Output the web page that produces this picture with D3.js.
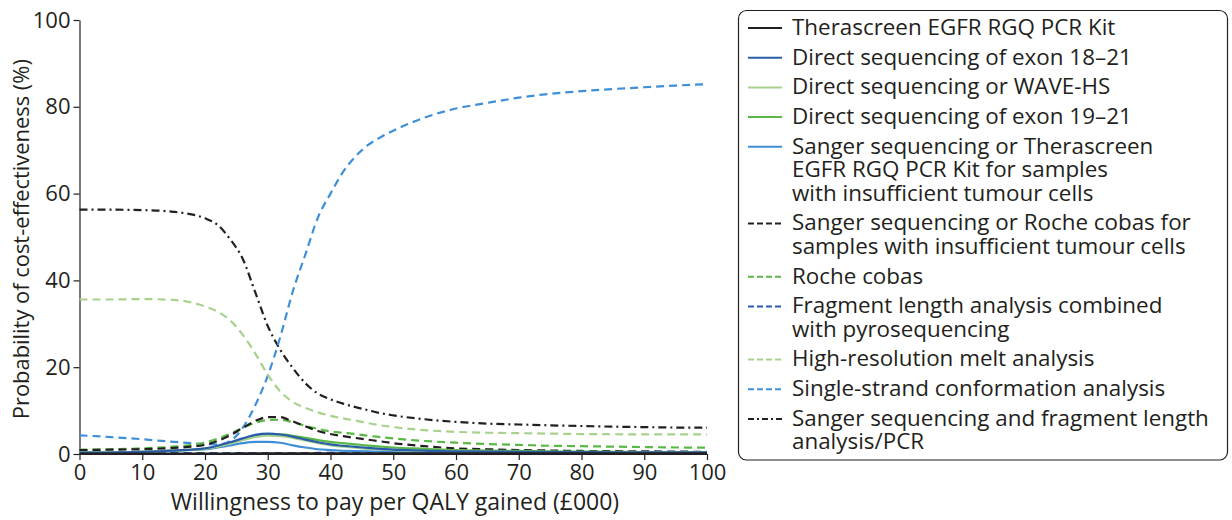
<!DOCTYPE html>
<html>
<head>
<meta charset="utf-8">
<script src="https://cdn.jsdelivr.net/npm/d3@7"></script>
<style>
  html, body { margin: 0; padding: 0; background: #fff; }
  svg { display: block; font-family: "Open Sans", "Noto Sans", sans-serif; }
</style>
</head>
<body>
<svg id="chart" width="1232" height="520"></svg>
<script>
// Willingness-to-pay thresholds (£000) at which each curve is sampled
const wtp = [0, 5, 10, 15, 20, 22, 24, 26, 28, 30, 32, 34, 36, 38, 40, 42, 44, 46, 48, 50, 55, 60, 65, 70, 75, 80, 85, 90, 95, 100];

// Probability of cost-effectiveness (%) for each testing strategy
const therascreen       = [0.1, 0.1, 0.1, 0.1, 0.1, 0.1, 0.1, 0.15, 0.15, 0.15, 0.15, 0.15, 0.15, 0.15, 0.15, 0.15, 0.15, 0.15, 0.15, 0.15, 0.15, 0.15, 0.15, 0.15, 0.15, 0.15, 0.15, 0.15, 0.15, 0.15];
const direct1821        = [0.3, 0.35, 0.5, 0.8, 1.3, 1.9, 2.7, 3.6, 4.4, 4.7, 4.5, 4.0, 3.3, 2.7, 2.2, 1.9, 1.65, 1.4, 1.2, 1.0, 0.8, 0.6, 0.55, 0.5, 0.45, 0.45, 0.4, 0.4, 0.4, 0.4];
const directWave        = [0.3, 0.35, 0.5, 0.8, 1.2, 1.7, 2.4, 3.2, 3.9, 4.2, 4.1, 3.7, 3.1, 2.5, 2.0, 1.7, 1.45, 1.2, 1.05, 0.9, 0.7, 0.6, 0.5, 0.45, 0.4, 0.4, 0.35, 0.35, 0.35, 0.35];
const direct1921        = [0.3, 0.35, 0.5, 0.8, 1.2, 1.7, 2.5, 3.4, 4.1, 4.5, 4.5, 4.2, 3.7, 3.2, 2.8, 2.5, 2.2, 1.95, 1.7, 1.5, 1.2, 0.9, 0.8, 0.7, 0.6, 0.55, 0.5, 0.45, 0.4, 0.4];
const sangerTherascreen = [0.3, 0.35, 0.5, 0.8, 1.1, 1.5, 2.0, 2.5, 2.8, 2.8, 2.6, 2.0, 1.5, 1.1, 0.9, 0.75, 0.65, 0.6, 0.55, 0.5, 0.45, 0.4, 0.35, 0.35, 0.3, 0.3, 0.3, 0.3, 0.3, 0.3];
const sangerRoche       = [0.9, 1.0, 1.1, 1.4, 2.1, 3.0, 4.3, 6.0, 7.6, 8.5, 8.5, 7.5, 6.4, 5.3, 4.6, 4.1, 3.7, 3.3, 2.9, 2.5, 1.8, 1.3, 1.1, 0.9, 0.8, 0.7, 0.65, 0.6, 0.55, 0.5];
const rocheCobas        = [1.0, 1.1, 1.3, 1.7, 2.6, 3.5, 4.7, 6.0, 7.2, 7.8, 7.9, 7.3, 6.5, 5.8, 5.2, 4.9, 4.6, 4.2, 3.9, 3.6, 3.0, 2.6, 2.3, 2.1, 1.9, 1.8, 1.7, 1.6, 1.5, 1.45];
const fragmentPyro      = [0.2, 0.2, 0.2, 0.2, 0.2, 0.2, 0.2, 0.2, 0.2, 0.2, 0.2, 0.2, 0.2, 0.25, 0.25, 0.25, 0.3, 0.3, 0.3, 0.3, 0.3, 0.3, 0.3, 0.3, 0.3, 0.3, 0.3, 0.3, 0.3, 0.3];
const hrm               = [35.6, 35.6, 35.7, 35.5, 34.0, 32.8, 30.8, 27.5, 23.2, 18.3, 14.4, 12.0, 10.6, 9.6, 8.8, 8.2, 7.7, 7.1, 6.6, 6.2, 5.5, 5.1, 4.9, 4.8, 4.7, 4.6, 4.55, 4.5, 4.5, 4.5];
const ssca              = [4.3, 3.9, 3.4, 2.8, 2.3, 2.2, 3.0, 6.0, 11.2, 18.0, 27.0, 37.5, 46.0, 54.5, 60.0, 65.0, 68.6, 71.2, 73.0, 74.5, 77.5, 79.6, 80.9, 82.1, 83.0, 83.6, 84.1, 84.5, 84.9, 85.2];
const sangerFragment    = [56.3, 56.3, 56.2, 55.8, 54.3, 52.8, 49.5, 45.0, 37.3, 29.5, 24.0, 19.8, 16.3, 13.9, 12.6, 11.6, 10.8, 10.1, 9.4, 8.9, 8.0, 7.4, 7.0, 6.8, 6.6, 6.45, 6.3, 6.2, 6.1, 6.1];

// Legend labels (each entry may wrap onto several lines)
const labels = [
  ["Therascreen EGFR RGQ PCR Kit"],
  ["Direct sequencing of exon 18\u201321"],
  ["Direct sequencing or WAVE-HS"],
  ["Direct sequencing of exon 19\u201321"],
  ["Sanger sequencing or Therascreen", "EGFR RGQ PCR Kit for samples", "with insufficient tumour cells"],
  ["Sanger sequencing or Roche cobas for", "samples with insufficient tumour cells"],
  ["Roche cobas"],
  ["Fragment length analysis combined", "with pyrosequencing"],
  ["High-resolution melt analysis"],
  ["Single-strand conformation analysis"],
  ["Sanger sequencing and fragment length", "analysis/PCR"]
];

const xTicks = [0, 10, 20, 30, 40, 50, 60, 70, 80, 90, 100];
const yTicks = [0, 20, 40, 60, 80, 100];

const black = "#231f20", darkBlue = "#2a5caa", lightGreen = "#a9d18e",
      green = "#5ab946", blue = "#3f8fd8";
const DASH = "8,5", DASHDOT = "8,4,2,4";

const series = [
  { values: therascreen,       color: black,      dash: null },
  { values: direct1821,        color: darkBlue,   dash: null },
  { values: directWave,        color: lightGreen, dash: null },
  { values: direct1921,        color: green,      dash: null },
  { values: sangerTherascreen, color: blue,       dash: null },
  { values: sangerRoche,       color: black,      dash: DASH },
  { values: rocheCobas,        color: green,      dash: DASH },
  { values: fragmentPyro,      color: darkBlue,   dash: DASH },
  { values: hrm,               color: lightGreen, dash: DASH },
  { values: ssca,              color: blue,       dash: DASH },
  { values: sangerFragment,    color: black,      dash: DASHDOT }
].map((s, i) => ({ ...s, label: labels[i] }));

const svg = d3.select("#chart");

const x = d3.scaleLinear().domain([0, 100]).range([79.5, 707]);
const y = d3.scaleLinear().domain([0, 100]).range([454, 20]);

// Axes
const xAxis = svg.append("g")
  .attr("transform", `translate(0,${y(0)})`)
  .call(d3.axisBottom(x).tickValues(xTicks).tickSize(6).tickPadding(4).tickSizeOuter(0));
const yAxis = svg.append("g")
  .attr("transform", `translate(${x(0)},0)`)
  .call(d3.axisLeft(y).tickValues(yTicks).tickSize(6).tickPadding(3).tickSizeOuter(0));
[xAxis, yAxis].forEach(g => {
  g.selectAll("path, line").attr("stroke", black).attr("stroke-width", 1.2);
  g.selectAll("text").attr("fill", black).style("font-size", "22px")
    .style("font-family", "'Open Sans', 'Noto Sans', sans-serif");
});

svg.append("text")
  .attr("x", 395).attr("y", 510)
  .attr("text-anchor", "middle").attr("fill", black)
  .style("font-size", "23px")
  .text("Willingness to pay per QALY gained (\u00a3000)");

// Y-axis title, sized to run along the plot from about 8% to 91%
const yTitle = svg.append("text")
  .attr("transform", `translate(29,${(y(8) + y(91)) / 2}) rotate(-90)`)
  .attr("text-anchor", "middle").attr("fill", black)
  .style("font-size", "20px")
  .text("Probability of cost-effectiveness (%)");
const span = y(8) - y(91);
const len = yTitle.node().getComputedTextLength();
if (len > 0) yTitle.style("font-size", (20 * span / len).toFixed(2) + "px");

// Curves
const line = d3.line()
  .x((d, i) => x(wtp[i]))
  .y(d => y(d))
  .curve(d3.curveMonotoneX);

const plotOrder = series.slice().reverse();
svg.append("g").selectAll("path")
  .data(plotOrder)
  .join("path")
  .attr("d", d => line(d.values))
  .attr("fill", "none")
  .attr("stroke", d => d.color)
  .attr("stroke-width", 2.2)
  .attr("stroke-dasharray", d => d.dash);

// Legend
const legend = svg.append("g");
legend.append("rect")
  .attr("x", 738.5).attr("y", 10.5)
  .attr("width", 489).attr("height", 449.5)
  .attr("rx", 8)
  .attr("fill", "#fff").attr("stroke", black).attr("stroke-width", 1.2);

const lineH = 23.5, entryStep = 29.7;
let cy = 27;
series.forEach(s => {
  legend.append("line")
    .attr("x1", 748).attr("x2", 782)
    .attr("y1", cy + 1).attr("y2", cy + 1)
    .attr("stroke", s.color).attr("stroke-width", 2)
    .attr("stroke-dasharray", s.dash ? (s.dash === DASH ? "6,3" : "6,3,2,3") : null);
  const txt = legend.append("text")
    .attr("x", 792).attr("y", cy)
    .attr("fill", black)
    .style("font-size", "22.4px");
  s.label.forEach((t, j) => {
    txt.append("tspan")
      .attr("x", 792)
      .attr("dy", j === 0 ? "0.35em" : lineH)
      .text(t);
  });
  cy += (s.label.length - 1) * lineH + entryStep;
});
</script>
</body>
</html>
